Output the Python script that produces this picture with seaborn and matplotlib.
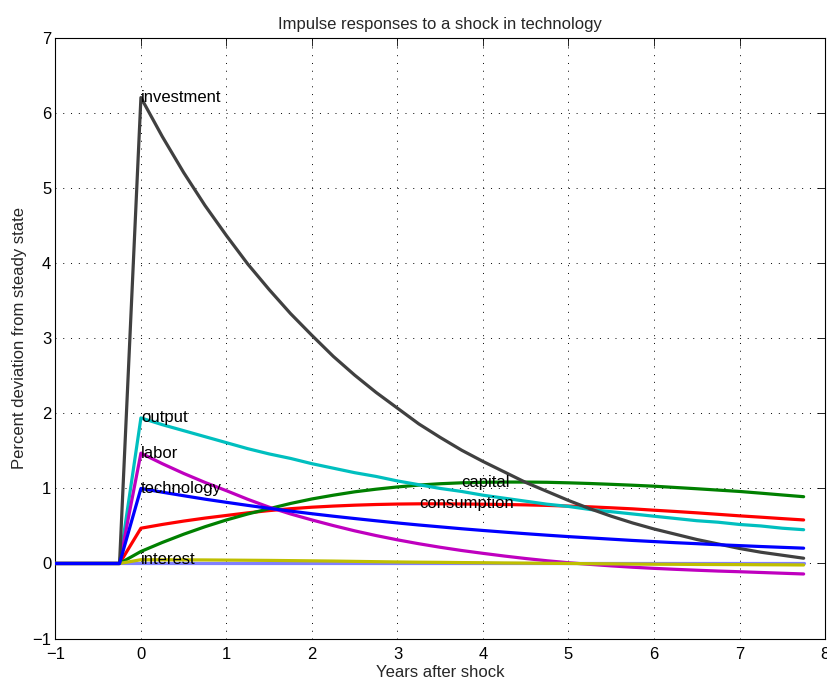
import matplotlib
matplotlib.use("Agg")
import matplotlib.pyplot as plt
import seaborn as sns

# ---------------- data ----------------
quarters = [-1.0, -0.75, -0.5, -0.25,
            0.0, 0.25, 0.5, 0.75, 1.0, 1.25, 1.5, 1.75,
            2.0, 2.25, 2.5, 2.75, 3.0, 3.25, 3.5, 3.75,
            4.0, 4.25, 4.5, 4.75, 5.0, 5.25, 5.5, 5.75,
            6.0, 6.25, 6.5, 6.75, 7.0, 7.25, 7.5, 7.75]

investment = [0, 0, 0, 0,
              6.21, 5.69, 5.21, 4.77, 4.37, 3.99, 3.65, 3.33,
              3.04, 2.76, 2.51, 2.28, 2.07, 1.86, 1.68, 1.51,
              1.36, 1.22, 1.08, 0.96, 0.84, 0.73, 0.63, 0.54,
              0.46, 0.39, 0.32, 0.26, 0.20, 0.15, 0.11, 0.07]

output = [0, 0, 0, 0,
          1.94, 1.85, 1.77, 1.69, 1.61, 1.53, 1.46, 1.40,
          1.33, 1.27, 1.21, 1.16, 1.10, 1.05, 1.00, 0.96,
          0.91, 0.87, 0.83, 0.79, 0.76, 0.72, 0.69, 0.66,
          0.63, 0.60, 0.57, 0.55, 0.52, 0.50, 0.47, 0.45]

labor = [0, 0, 0, 0,
         1.47, 1.33, 1.20, 1.08, 0.97, 0.855, 0.75, 0.66,
         0.58, 0.505, 0.435, 0.372, 0.315, 0.263, 0.216, 0.173,
         0.135, 0.099, 0.066, 0.036, 0.01, -0.012, -0.032, -0.05,
         -0.065, -0.078, -0.09, -0.101, -0.11, -0.12, -0.13, -0.14]

technology = [0, 0, 0, 0,
              1.0, 0.95, 0.903, 0.857, 0.815, 0.774, 0.735, 0.698,
              0.663, 0.63, 0.599, 0.569, 0.54, 0.513, 0.488, 0.463,
              0.44, 0.418, 0.397, 0.377, 0.358, 0.341, 0.324, 0.307,
              0.292, 0.277, 0.264, 0.25, 0.238, 0.226, 0.215, 0.204]

consumption = [0, 0, 0, 0,
               0.47, 0.52, 0.565, 0.605, 0.64, 0.675, 0.705, 0.73,
               0.75, 0.765, 0.777, 0.786, 0.792, 0.795, 0.795, 0.793,
               0.79, 0.786, 0.781, 0.774, 0.765, 0.755, 0.742, 0.728,
               0.71, 0.693, 0.675, 0.655, 0.635, 0.617, 0.598, 0.58]

capital = [0, 0, 0, 0,
           0.16, 0.28, 0.39, 0.49, 0.58, 0.66, 0.73, 0.80,
           0.86, 0.91, 0.955, 0.99, 1.02, 1.045, 1.063, 1.075,
           1.082, 1.085, 1.085, 1.082, 1.075, 1.066, 1.055, 1.043,
           1.03, 1.013, 0.996, 0.978, 0.96, 0.937, 0.913, 0.89]

interest = [0, 0, 0, 0,
            0.05, 0.049, 0.048, 0.047, 0.045, 0.043, 0.041, 0.038,
            0.035, 0.032, 0.028, 0.024, 0.02, 0.017, 0.015, 0.012,
            0.01, 0.007, 0.005, 0.002, 0.0, -0.003, -0.005, -0.008,
            -0.01, -0.011, -0.013, -0.014, -0.015, -0.017, -0.018, -0.02]

baseline = [0, 0, 0, 0, 0, 0, 0, 0, 0, 0, 0, 0,
            0, 0, 0, 0, 0, 0, 0, 0, 0, 0, 0, 0,
            0, 0, 0, 0, 0, 0, 0, 0, 0, 0, 0, 0]

names = ["investment", "output", "labor", "technology",
         "consumption", "capital", "interest"]
label_times = [0.0, 0.0, 0.0, 0.0, 3.25, 3.75, 0.0]

title = "Impulse responses to a shock in technology"
xlabel = "Years after shock"
ylabel = "Percent deviation from steady state"
xticks = [-1, 0, 1, 2, 3, 4, 5, 6, 7, 8]
yticks = [-1, 0, 1, 2, 3, 4, 5, 6, 7]

# ---------------- styling ----------------
sns.set_style("white")
plt.rcParams["font.family"] = ["Liberation Sans", "DejaVu Sans"]
plt.rcParams["axes.unicode_minus"] = True

fig = plt.figure(figsize=(8.27, 6.81), dpi=100)
ax = fig.add_axes([0.067, 0.0624, 0.9306, 0.8814])

data = {"investment": investment, "output": output, "labor": labor,
        "technology": technology, "consumption": consumption,
        "capital": capital, "interest": interest}
colors = {"investment": "#404040", "output": "#00BFBF", "labor": "#BF00BF",
          "technology": "#0000FF", "consumption": "#FF0000",
          "capital": "#008000", "interest": "#BFBF00"}
order = ["consumption", "capital", "output", "labor"]
lw = 2.3

z = 3
for n in order:
    sns.lineplot(x=quarters, y=data[n], ax=ax, color=colors[n], lw=lw, zorder=z)
    z += 1
sns.lineplot(x=quarters, y=baseline, ax=ax, color="#8080FF", lw=lw, zorder=z)
z += 1
for n in ["interest", "investment", "technology"]:
    sns.lineplot(x=quarters, y=data[n], ax=ax, color=colors[n], lw=lw, zorder=z)
    z += 1

for n, t in zip(names, label_times):
    v = data[n][quarters.index(t)]
    ax.text(t, v, n, fontsize=12, ha="left", va="center", color="k", zorder=20)

ax.set_xlim(-1, 8)
ax.set_ylim(-1, 7)
ax.set_xticks(xticks)
ax.set_yticks(yticks)
ax.grid(True, color="k", linestyle=(0, (1, 7)), lw=0.7)
ax.set_axisbelow(True)
ax.tick_params(direction="in", length=5.5, width=0.6, top=True, right=True,
               labelsize=12, colors="k")
ax.tick_params(axis="x", pad=6)
ax.tick_params(axis="y", pad=3)
for s in ax.spines.values():
    s.set_visible(True)
    s.set_color("k")
    s.set_linewidth(0.8)

ax.set_title(title, fontsize=12, pad=7)
ax.set_xlabel(xlabel, fontsize=12, labelpad=2)
ax.set_ylabel(ylabel, fontsize=12, labelpad=4)

fig.savefig("out.png", dpi=100)
